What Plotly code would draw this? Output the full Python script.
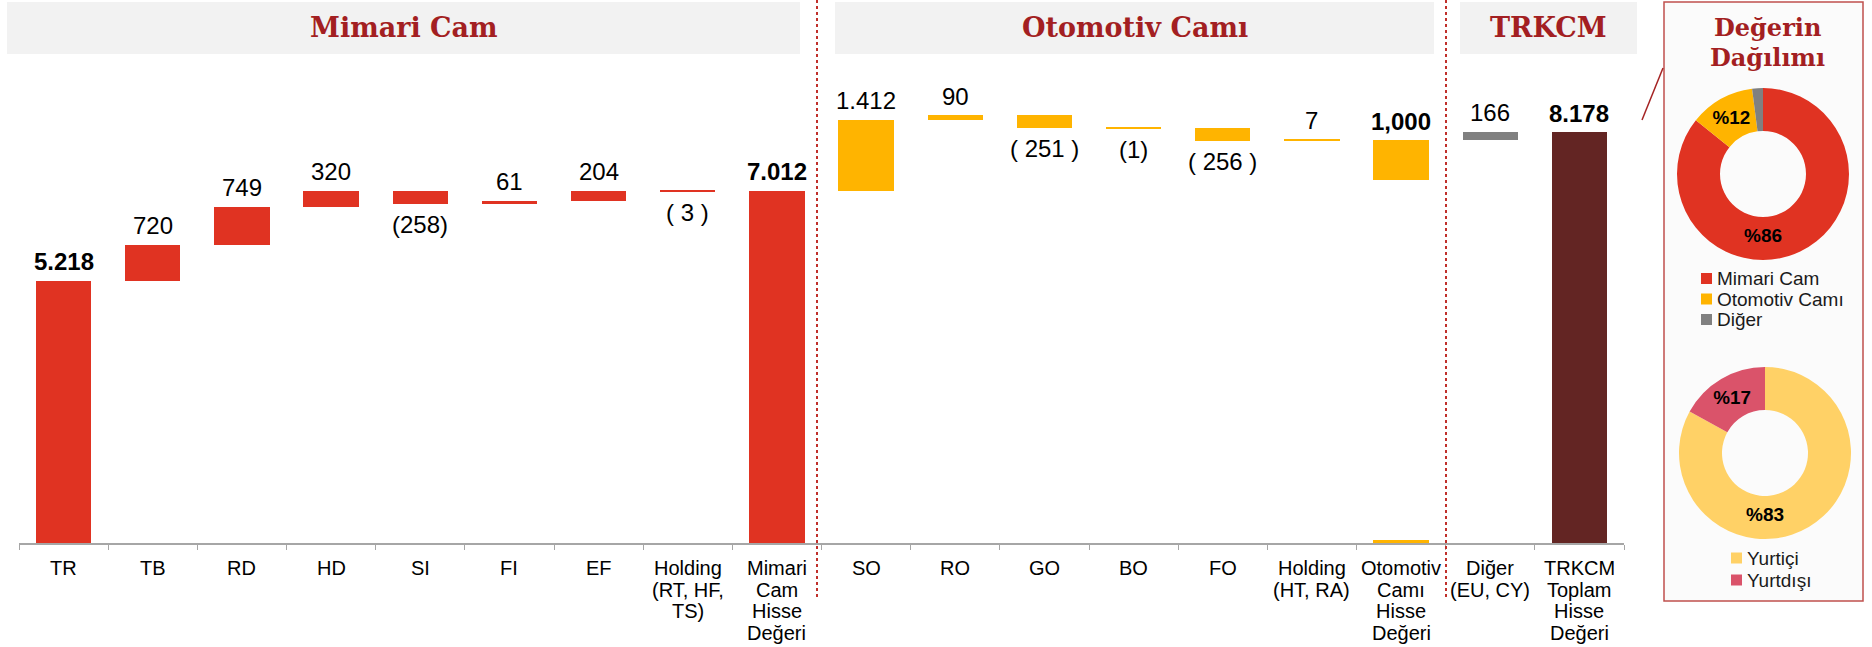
import plotly.graph_objects as go

# ---------------- data ----------------
categories = ["TR", "TB", "RD", "HD", "SI", "FI", "EF", "Holding<br>(RT, HF,<br>TS)",
              "Mimari<br>Cam<br>Hisse<br>Değeri",
              "SO", "RO", "GO", "BO", "FO", "Holding<br>(HT, RA)",
              "Otomotiv<br>Camı<br>Hisse<br>Değeri",
              "Diğer<br>(EU, CY)", "TRKCM<br>Toplam<br>Hisse<br>Değeri"]
values = [5218, 720, 749, 320, -258, 61, 204, -3, 7012,
          1412, 90, -251, -1, -256, 7, 1000,
          166, 8178]
kinds = ["start", "step", "step", "step", "step", "step", "step", "step", "total",
         "step", "step", "step", "step", "step", "step", "subtotal",
         "step", "total"]
value_labels = ["5.218", "720", "749", "320", "(258)", "61", "204", "( 3 )", "7.012",
                "1.412", "90", "( 251 )", "(1)", "( 256 )", "7", "1,000",
                "166", "8.178"]
segments = ["mimari"] * 9 + ["oto"] * 7 + ["diger", "trkcm"]
# Otomotiv total bar as drawn in the picture: visible floating part bottom and a thin stub on the axis
oto_total_visible_bottom = 7220
oto_total_stub = 60

sections = ["Mimari Cam", "Otomotiv Camı", "TRKCM"]
panel_title = ["Değerin", "Dağılımı"]

pie1_labels = ["Mimari Cam", "Otomotiv Camı", "Diğer"]
pie1_values = [7012, 1000, 166]
pie1_text = ["%86", "%12", ""]
pie2_labels = ["Yurtiçi", "Yurtdışı"]
pie2_values = [83, 17]
pie2_text = ["%83", "%17"]

# ---------------- styles ----------------
W, H = 1872, 647
seg_colors = {"mimari": "#E03322", "oto": "#FFB400", "diger": "#808080", "trkcm": "#632523"}
pie1_colors = ["#E03322", "#FFB400", "#808080"]
pie2_colors = ["#FFD166", "#DA536A"]
TITLE_RED = "#A31F22"
SANS = "Liberation Sans, Arial, sans-serif"
SERIF = "DejaVu Serif, Georgia, serif"
MIN_H = 40  # minimal drawn thickness for tiny steps


def px(x):
    return x / W


def py(y):
    return 1 - y / H


# ---------------- waterfall geometry ----------------
bases, heights = [], []
running = 0
for v, k in zip(values, kinds):
    if k in ("start", "total"):
        lo, hi = 0, v
        running = v
    elif k == "subtotal":
        lo, hi = oto_total_visible_bottom, running
    else:
        lo, hi = sorted([running, running + v])
        running += v
    if hi - lo < MIN_H:
        mid = (hi + lo) / 2
        lo, hi = mid - MIN_H / 2, mid + MIN_H / 2
    bases.append(lo)
    heights.append(hi - lo)

fig = go.Figure()
fig.add_trace(go.Bar(
    x=categories, y=heights, base=bases, width=0.62,
    marker=dict(color=[seg_colors[s] for s in segments], line=dict(width=0)),
    showlegend=False, hoverinfo="skip"))
# stub of the Otomotiv total on the axis
stub_y = [oto_total_stub if k == "subtotal" else 0 for k in kinds]
fig.add_trace(go.Bar(
    x=categories, y=stub_y, base=[0] * len(categories), width=0.62,
    marker=dict(color=seg_colors["oto"], line=dict(width=0)),
    showlegend=False, hoverinfo="skip"))

# value labels
for c, v, k, lab, b, h in zip(categories, values, kinds, value_labels, bases, heights):
    bold = k != "step"
    if v >= 0:
        yv, shift = b + h, 19
    else:
        yv, shift = b, -21
    fig.add_annotation(x=c, y=yv, xref="x", yref="y", text=f"<b>{lab}</b>" if bold else lab,
                       showarrow=False, xanchor="center", yanchor="middle", yshift=shift,
                       font=dict(family=SANS, size=24, color="#000000"))

# category labels (tight line spacing as in the picture)
for c in categories:
    for i, line in enumerate(c.split("<br>")):
        fig.add_annotation(x=c, y=0, xref="x", yref="y", text=line, showarrow=False,
                           xanchor="center", yanchor="middle", yshift=-(25 + 21.6 * i),
                           font=dict(family=SANS, size=20, color="#000000"))

# ---------------- layout ----------------
y_scale = 0.050257  # px per unit
baseline_px = 543
fig.update_layout(
    width=W, height=H, margin=dict(l=0, r=0, t=0, b=0),
    paper_bgcolor="white", plot_bgcolor="rgba(0,0,0,0)",
    barmode="overlay", bargap=0,
    xaxis=dict(domain=[px(19), px(1624)], type="category", showline=True,
               linecolor="#A6A6A6", linewidth=1.5, ticks="outside", ticklen=5,
               tickcolor="#A6A6A6", tickwidth=1.2, tickson="boundaries",
               showgrid=False, zeroline=False, showticklabels=False, fixedrange=True),
    yaxis=dict(domain=[py(baseline_px), 1], range=[0, baseline_px / y_scale],
               visible=False, fixedrange=True),
    showlegend=False,
)

shapes = []
# section header boxes
header_boxes = [(7, 800), (835, 1434), (1460, 1637)]
for (x0, x1), name in zip(header_boxes, sections):
    shapes.append(dict(type="rect", xref="paper", yref="paper", x0=px(x0), x1=px(x1),
                       y0=py(54), y1=py(2), fillcolor="#F2F2F2", line=dict(width=0), layer="below"))
    fig.add_annotation(xref="paper", yref="paper", x=px((x0 + x1) / 2), y=py(28),
                       text=f"<b>{name}</b>", showarrow=False, xanchor="center", yanchor="middle",
                       font=dict(family=SERIF, size=27, color=TITLE_RED))
# dotted separators
for xs in (817, 1446):
    shapes.append(dict(type="line", xref="paper", yref="paper", x0=px(xs), x1=px(xs),
                       y0=py(0), y1=py(598), line=dict(color="#C0302B", width=2, dash="dot")))
# right panel
shapes.append(dict(type="rect", xref="paper", yref="paper", x0=px(1664), x1=px(1863),
                   y0=py(601), y1=py(2), fillcolor="#FBFBFB",
                   line=dict(color="#C0504D", width=1.5), layer="below"))
shapes.append(dict(type="line", xref="paper", yref="paper", x0=px(1663), y0=py(68),
                   x1=px(1642), y1=py(120), line=dict(color="#A52323", width=1.5)))
for i, t in enumerate(panel_title):
    fig.add_annotation(xref="paper", yref="paper", x=px(1767), y=py(28 + 30 * i),
                       text=f"<b>{t}</b>", showarrow=False, xanchor="center", yanchor="middle",
                       font=dict(family=SERIF, size=24, color=TITLE_RED))


# donuts
def add_donut(cx, cy, r, labels, vals, texts, colors):
    fig.add_trace(go.Pie(
        labels=labels, values=vals, text=texts, textinfo="text", textposition="inside",
        insidetextorientation="horizontal", hole=0.5, sort=False, direction="clockwise",
        rotation=0, marker=dict(colors=colors, line=dict(width=0)),
        insidetextfont=dict(family=SANS, size=19, color="#000000", weight="bold"),
        domain=dict(x=[px(cx - r), px(cx + r)], y=[py(cy + r), py(cy - r)]),
        showlegend=False, hoverinfo="skip"))


add_donut(1763, 174, 86, pie1_labels, pie1_values, pie1_text, pie1_colors)
add_donut(1765, 453, 86, pie2_labels, pie2_values, pie2_text, pie2_colors)


# custom legends
def add_legend(x_sq, y0, dy, labels, colors):
    for i, (lab, col) in enumerate(zip(labels, colors)):
        yc = y0 + i * dy
        shapes.append(dict(type="rect", xref="paper", yref="paper", x0=px(x_sq), x1=px(x_sq + 11),
                           y0=py(yc + 5.5), y1=py(yc - 5.5), fillcolor=col, line=dict(width=0)))
        fig.add_annotation(xref="paper", yref="paper", x=px(x_sq + 14), y=py(yc),
                           xanchor="left", yanchor="middle", text=lab, showarrow=False,
                           font=dict(family=SANS, size=19, color="#1A1A1A"))


add_legend(1701, 278.5, 20.5, pie1_labels, pie1_colors)
add_legend(1731, 558, 22, pie2_labels, pie2_colors)

fig.update_layout(shapes=shapes)
fig.write_html("out.html", config={"displayModeBar": False},
               post_script="document.body.style.margin='0';document.body.style.overflow='hidden';")
